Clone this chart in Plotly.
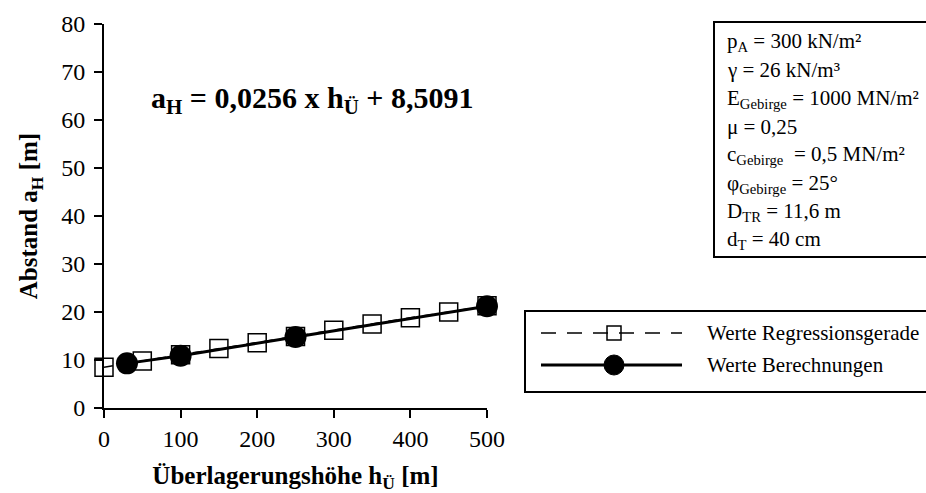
import plotly.graph_objects as go

# Regression line values a_H = 0,0256 * h_Ü + 8,5091 (read at 50 m steps)
h_reg = [0, 50, 100, 150, 200, 250, 300, 350, 400, 450, 500]
a_reg = [8.5, 9.8, 11.1, 12.4, 13.6, 14.9, 16.2, 17.5, 18.8, 20.0, 21.3]

# Calculated values
h_calc = [30, 100, 250, 500]
a_calc = [9.3, 10.9, 14.8, 21.2]

x_ticks = [0, 100, 200, 300, 400, 500]
y_ticks = [0, 10, 20, 30, 40, 50, 60, 70, 80]

params = [
    "p<sub>A</sub> = 300 kN/m²",
    "γ = 26 kN/m³",
    "E<sub>Gebirge</sub> = 1000 MN/m²",
    "μ = 0,25",
    "c<sub>Gebirge</sub>  = 0,5 MN/m²",
    "φ<sub>Gebirge</sub> = 25°",
    "D<sub>TR</sub> = 11,6 m",
    "d<sub>T</sub> = 40 cm",
]
legend_names = ["Werte Regressionsgerade", "Werte Berechnungen"]
equation = "a<sub>H</sub> = 0,0256 x h<sub>Ü</sub> + 8,5091"

W, H = 926, 493
L, R, T, B = 104, 487, 24, 408
SERIF = "Liberation Serif, Times New Roman, serif"


def px(x):
    return (x - L) / (R - L)


def py(y):
    return (B - y) / (B - T)


fig = go.Figure()
fig.add_trace(go.Scatter(
    x=h_reg, y=a_reg, mode="lines+markers", name=legend_names[0],
    line=dict(color="black", width=1.5, dash="dash"),
    marker=dict(symbol="square-open", size=18, color="black", line=dict(width=1.5)),
    cliponaxis=False,
))
fig.add_trace(go.Scatter(
    x=h_calc, y=a_calc, mode="lines+markers", name=legend_names[1],
    line=dict(color="black", width=3),
    marker=dict(symbol="circle", size=22, color="black"),
    cliponaxis=False,
))

shapes = []
annotations = []

# parameter box
shapes.append(dict(type="rect", xref="paper", yref="paper",
                   x0=px(714), x1=px(940), y0=py(257), y1=py(22),
                   line=dict(color="black", width=2), fillcolor="white", layer="below"))
for i, txt in enumerate(params):
    annotations.append(dict(xref="paper", yref="paper", x=px(725), y=py(42 + i * 28.3),
                            xanchor="left", yanchor="middle", text=txt, showarrow=False,
                            font=dict(family=SERIF, size=21, color="black")))

# legend box with samples
shapes.append(dict(type="rect", xref="paper", yref="paper",
                   x0=px(525), x1=px(940), y0=py(392), y1=py(311),
                   line=dict(color="black", width=2), fillcolor="white", layer="below"))
shapes.append(dict(type="line", xref="paper", yref="paper",
                   x0=px(541), x1=px(682), y0=py(333), y1=py(333),
                   line=dict(color="black", width=1.5, dash="15px,11px")))
shapes.append(dict(type="rect", xref="paper", yref="paper",
                   x0=px(607), x1=px(621), y0=py(340), y1=py(326),
                   line=dict(color="black", width=1.5)))
shapes.append(dict(type="line", xref="paper", yref="paper",
                   x0=px(541), x1=px(682), y0=py(365), y1=py(365),
                   line=dict(color="black", width=3)))
shapes.append(dict(type="circle", xref="paper", yref="paper",
                   x0=px(604), x1=px(624), y0=py(375), y1=py(355),
                   line=dict(color="black", width=1), fillcolor="black"))
for i, name in enumerate(legend_names):
    annotations.append(dict(xref="paper", yref="paper", x=px(705), y=py(333 + i * 32),
                            xanchor="left", yanchor="middle", text=name, showarrow=False,
                            font=dict(family=SERIF, size=21, color="black")))

# regression equation
annotations.append(dict(xref="paper", yref="paper", x=px(312), y=py(100),
                        xanchor="center", yanchor="middle", text="<b>" + equation + "</b>",
                        showarrow=False, font=dict(family=SERIF, size=30, color="black")))

fig.update_layout(
    width=W, height=H,
    margin=dict(l=L, r=W - R, t=T, b=H - B),
    paper_bgcolor="white", plot_bgcolor="white",
    showlegend=False,
    shapes=shapes, annotations=annotations,
    font=dict(family=SERIF, color="black"),
)
fig.update_xaxes(
    range=[0, 500], tickvals=x_ticks, ticks="outside", ticklen=8, tickwidth=2,
    tickcolor="black", showline=True, linecolor="black", linewidth=2,
    showgrid=False, zeroline=False, tickfont=dict(family=SERIF, size=24),
    automargin=False,
    title=dict(text="<b>Überlagerungshöhe h<sub>Ü</sub> [m]</b>", standoff=20,
               font=dict(family=SERIF, size=25)),
)
fig.update_yaxes(
    range=[0, 80], tickvals=y_ticks, ticks="outside", ticklen=8, tickwidth=2,
    tickcolor="black", showline=True, linecolor="black", linewidth=2,
    showgrid=False, zeroline=False, tickfont=dict(family=SERIF, size=24),
    ticklabelstandoff=4, automargin=False,
    title=dict(text="<b>Abstand a<sub>H</sub> [m]</b>", standoff=16,
               font=dict(family=SERIF, size=25)),
)

fig.write_html("out.html")
